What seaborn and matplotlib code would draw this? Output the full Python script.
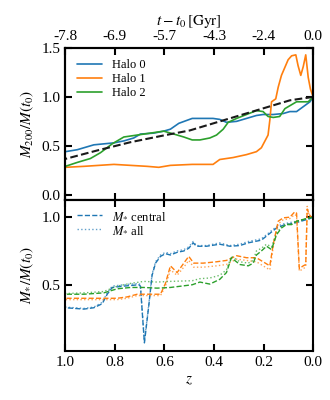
import seaborn as sns
import matplotlib.pyplot as plt

# top panel: M200 / M(t0) vs redshift
z_h0 = [1.0, 0.952, 0.885, 0.804, 0.764, 0.724, 0.697, 0.643, 0.603, 0.576, 0.542, 0.488, 0.444,
        0.404, 0.377, 0.350, 0.309, 0.269, 0.229, 0.202, 0.161, 0.121, 0.094, 0.067, 0.040, 0.013, 0.0]
m_h0 = [0.44, 0.46, 0.51, 0.53, 0.55, 0.58, 0.62, 0.63, 0.65, 0.67, 0.73, 0.78, 0.78,
        0.78, 0.77, 0.74, 0.75, 0.78, 0.81, 0.82, 0.82, 0.83, 0.85, 0.85, 0.90, 0.95, 1.0]
z_h1 = [1.0, 0.925, 0.804, 0.737, 0.670, 0.623, 0.576, 0.488, 0.404, 0.377, 0.323, 0.269, 0.229,
        0.209, 0.182, 0.175, 0.168, 0.151, 0.141, 0.128, 0.101, 0.087, 0.070, 0.061, 0.050, 0.040,
        0.030, 0.020, 0.011, 0.0]
m_h1 = [0.28, 0.29, 0.31, 0.30, 0.29, 0.28, 0.30, 0.31, 0.31, 0.36, 0.38, 0.41, 0.44,
        0.48, 0.61, 0.76, 0.95, 0.98, 1.10, 1.22, 1.38, 1.42, 1.43, 1.32, 1.22, 1.31,
        1.43, 1.20, 1.08, 1.0]
z_h2 = [1.0, 0.952, 0.899, 0.858, 0.811, 0.764, 0.710, 0.656, 0.603, 0.562, 0.522, 0.488, 0.457,
        0.417, 0.390, 0.363, 0.343, 0.309, 0.269, 0.229, 0.202, 0.182, 0.161, 0.135, 0.114, 0.094,
        0.067, 0.040, 0.020, 0.0]
m_h2 = [0.29, 0.33, 0.37, 0.43, 0.52, 0.59, 0.61, 0.63, 0.65, 0.62, 0.59, 0.56, 0.56,
        0.58, 0.61, 0.67, 0.74, 0.78, 0.82, 0.86, 0.85, 0.80, 0.79, 0.80, 0.88, 0.91,
        0.95, 0.95, 0.95, 1.0]
z_mean = [1.0, 0.872, 0.737, 0.603, 0.498, 0.363, 0.229, 0.094, 0.0]
m_mean = [0.366, 0.452, 0.537, 0.606, 0.657, 0.76, 0.862, 0.965, 1.0]

# bottom panel: stellar mass, central (dashed) and all (dotted)
z_s0 = [1.0, 0.925, 0.885, 0.851, 0.831, 0.811, 0.764, 0.704, 0.697, 0.681, 0.663, 0.650, 0.636,
        0.616, 0.596, 0.576, 0.549, 0.522, 0.502, 0.484, 0.471, 0.430, 0.377, 0.336, 0.296, 0.262,
        0.209, 0.175, 0.148, 0.121, 0.094, 0.067, 0.040, 0.013, 0.0]
s0_cen = [0.33, 0.32, 0.33, 0.36, 0.43, 0.48, 0.49, 0.50, 0.49, 0.07, 0.35, 0.57, 0.66,
          0.71, 0.73, 0.72, 0.74, 0.75, 0.77, 0.81, 0.785, 0.785, 0.80, 0.785, 0.79, 0.81,
          0.83, 0.88, 0.92, 0.94, 0.95, 0.96, 0.975, 0.99, 1.0]
s0_all = [0.335, 0.325, 0.335, 0.37, 0.44, 0.49, 0.50, 0.51, 0.50, 0.08, 0.36, 0.58, 0.67,
          0.72, 0.74, 0.73, 0.75, 0.76, 0.78, 0.82, 0.79, 0.79, 0.81, 0.79, 0.80, 0.82,
          0.84, 0.89, 0.93, 0.95, 0.96, 0.97, 0.98, 0.99, 1.0]
z_s1 = [1.0, 0.925, 0.845, 0.791, 0.751, 0.710, 0.670, 0.616, 0.596, 0.576, 0.549, 0.522, 0.502,
        0.482, 0.444, 0.390, 0.350, 0.309, 0.269, 0.229, 0.202, 0.175, 0.161, 0.141, 0.121, 0.094,
        0.074, 0.067, 0.056, 0.040, 0.030, 0.024, 0.016, 0.007, 0.0]
s1_cen = [0.40, 0.40, 0.40, 0.40, 0.41, 0.43, 0.43, 0.43, 0.51, 0.64, 0.59, 0.66, 0.71,
          0.66, 0.66, 0.67, 0.68, 0.715, 0.70, 0.70, 0.67, 0.64, 0.80, 0.97, 0.995, 1.0,
          1.04, 1.03, 0.62, 0.64, 0.65, 1.06, 1.02, 1.0, 1.0]
s1_all = [0.39, 0.39, 0.39, 0.39, 0.40, 0.42, 0.42, 0.42, 0.49, 0.61, 0.57, 0.63, 0.68,
          0.63, 0.63, 0.64, 0.65, 0.69, 0.68, 0.67, 0.64, 0.61, 0.78, 0.95, 0.98, 0.99,
          1.02, 1.01, 0.60, 0.62, 0.63, 1.08, 1.01, 0.99, 1.0]
z_s2 = [1.0, 0.925, 0.845, 0.791, 0.737, 0.683, 0.630, 0.576, 0.488, 0.457, 0.417, 0.377, 0.350,
        0.330, 0.296, 0.262, 0.242, 0.229, 0.209, 0.188, 0.168, 0.148, 0.128, 0.108, 0.087, 0.067,
        0.047, 0.027, 0.0]
s2_cen = [0.43, 0.43, 0.44, 0.47, 0.48, 0.48, 0.475, 0.48, 0.50, 0.52, 0.505, 0.54, 0.59,
          0.70, 0.65, 0.64, 0.66, 0.72, 0.75, 0.785, 0.76, 0.87, 0.92, 0.945, 0.945, 0.97,
          0.98, 0.99, 1.0]
s2_all = [0.435, 0.44, 0.45, 0.49, 0.51, 0.525, 0.52, 0.525, 0.53, 0.545, 0.55, 0.57, 0.61,
          0.71, 0.67, 0.66, 0.68, 0.75, 0.77, 0.80, 0.78, 0.88, 0.93, 0.95, 0.95, 0.97,
          0.98, 0.99, 1.0]

z_ticks = [1.0, 0.8, 0.6, 0.4, 0.2, 0.0]
t_labels = ['-7.8', '-6.9', '-5.7', '-4.3', '-2.4', '0.0']

sns.set_theme(style='ticks')
plt.rcParams['font.family'] = ['Liberation Serif', 'DejaVu Serif']
plt.rcParams['mathtext.fontset'] = 'stix'
plt.rcParams['axes.linewidth'] = 1.5
plt.rcParams['axes.edgecolor'] = 'black'
plt.rcParams['axes.labelcolor'] = 'black'
plt.rcParams['text.color'] = 'black'
plt.rcParams['xtick.color'] = 'black'
plt.rcParams['ytick.color'] = 'black'

c0, c1, c2 = sns.color_palette('tab10')[:3]

fig = plt.figure(figsize=(3.3, 4.0), dpi=100)
ax1 = fig.add_axes([0.198, 0.501, 0.751, 0.379])
ax2 = fig.add_axes([0.198, 0.1225, 0.751, 0.3785], sharex=ax1)

sns.lineplot(x=z_h0, y=m_h0, ax=ax1, color=c0, lw=1.2, label='Halo 0')
sns.lineplot(x=z_h1, y=m_h1, ax=ax1, color=c1, lw=1.2, label='Halo 1')
sns.lineplot(x=z_h2, y=m_h2, ax=ax1, color=c2, lw=1.2, label='Halo 2')
sns.lineplot(x=z_mean, y=m_mean, ax=ax1, color='k', lw=1.5, ls='--')

for zz, cen, al, col in [(z_s0, s0_cen, s0_all, c0), (z_s1, s1_cen, s1_all, c1),
                         (z_s2, s2_cen, s2_all, c2)]:
    sns.lineplot(x=zz, y=cen, ax=ax2, color=col, lw=1.0, ls='--',
                 label=r'$M_{*}$ central' if col == c0 else None)
    sns.lineplot(x=zz, y=al, ax=ax2, color=col, lw=1.0, ls=':', alpha=0.7,
                 label=r'$M_{*}$ all' if col == c0 else None)

ax1.set_xlim(1.0, 0.0)
ax1.set_ylim(-0.05, 1.5)
ax1.set_yticks([0.0, 0.5, 1.0, 1.5])
ax2.set_ylim(0.01, 1.13)
ax2.set_yticks([0.5, 1.0])
ax2.set_xticks(z_ticks)

for ax in (ax1, ax2):
    ax.tick_params(direction='in', top=True, right=True, length=5, width=1.5,
                   labelsize=11)
ax1.tick_params(labelbottom=False)

top = ax1.twiny()
top.set_xlim(1.0, 0.0)
top.set_xticks(z_ticks)
top.set_xticklabels(t_labels)
top.tick_params(direction='in', length=5, width=1.5, labelsize=11)
top.set_xlabel(r'$t - t_0\,[\mathrm{Gyr}]$', fontsize=11)

ax1.set_ylabel(r'$M_{200}/M(t_0)$', fontsize=11)
ax2.set_ylabel(r'$M_{*}/M(t_0)$', fontsize=11)
ax2.set_xlabel(r'$z$', fontsize=11)

ax1.legend(loc='upper left', frameon=False, fontsize=9, labelspacing=0.15)
ax2.legend(loc='upper left', frameon=False, fontsize=9, labelspacing=0.15)

fig.savefig('out.png', dpi=100)
